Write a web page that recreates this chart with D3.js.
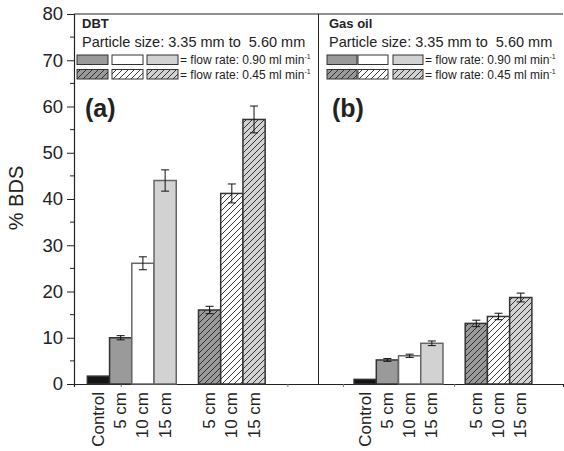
<html>
<head>
<script src="https://d3js.org/d3.v7.min.js"></script>
<style>
  body { margin: 0; background: #fff; }
  text { font-family: "Liberation Sans", Arial, sans-serif; fill: #222; white-space: pre; }
</style>
</head>
<body>
<div id="chart"></div>
<script>
// data
var categories = ["Control", "5 cm", "10 cm", "15 cm", "5 cm", "10 cm", "15 cm"];
var dbtValues = [1.7, 10.0, 26.1, 44.0, 16.0, 41.2, 57.2];
var dbtErrors = [0, 0.45, 1.4, 2.3, 0.8, 2.05, 2.9];
var gasOilValues = [1.0, 5.2, 6.1, 8.8, 13.1, 14.6, 18.7];
var gasOilErrors = [0, 0.3, 0.35, 0.5, 0.7, 0.7, 0.95];
var panelNames = ["DBT", "Gas oil"];
var panelLetters = ["(a)", "(b)"];
var yTicks = [0, 10, 20, 30, 40, 50, 60, 70, 80];
var yMinorTicks = [5, 15, 25, 35, 45, 55, 65, 75];
var xTicks = [2.1, 9.6, 12.1, 17.1];

var fills = ["#151515", "#9a9a9a", "#ffffff", "#d2d2d2", "#9a9a9a", "#ffffff", "#d2d2d2"];
var hatched = [false, false, false, false, true, true, true];

var width = 564, height = 451;
var svg = d3.select("#chart").append("svg")
    .attr("width", width)
    .attr("height", height);

var x = d3.scaleLinear().domain([0, 22]).range([74, 563]);
var y = d3.scaleLinear().domain([0, 80]).range([384, 14]);
var unit = x(1) - x(0);

// hatch patterns
var defs = svg.append("defs");
function hatchPattern(id, bg) {
    var p = defs.append("pattern")
        .attr("id", id)
        .attr("patternUnits", "userSpaceOnUse")
        .attr("width", 6).attr("height", 6);
    p.append("rect").attr("width", 6).attr("height", 6).attr("fill", bg);
    p.append("path")
        .attr("d", "M-1,1 l2,-2 M0,6 l6,-6 M5,7 l2,-2")
        .attr("stroke", "#222")
        .attr("stroke-width", 0.9);
}
hatchPattern("h-dark", "#9a9a9a");
hatchPattern("h-white", "#ffffff");
hatchPattern("h-light", "#d2d2d2");
var hatchIds = { "#9a9a9a": "h-dark", "#ffffff": "h-white", "#d2d2d2": "h-light" };

function fillOf(i) {
    return hatched[i] ? "url(#" + hatchIds[fills[i]] + ")" : fills[i];
}
function strokeOf(i) {
    return (i == 2 || i == 3) ? "#666" : "#333";
}

// slot of each bar (gap of one slot between the two flow-rate groups)
function slot(panel, i) {
    return panel * 12 + i + (i >= 4 ? 1 : 0) + 0.6;
}

// y axis
var yAxis = svg.append("g")
    .attr("transform", "translate(74,0)")
    .call(d3.axisLeft(y).tickValues(yTicks).tickSize(7).tickPadding(4));
yAxis.select(".domain").attr("stroke", "#222").attr("stroke-width", 1.2);
yAxis.selectAll(".tick line").attr("stroke", "#222");
yAxis.selectAll(".tick text")
    .style("font-size", "18.5px")
    .style("font-family", "Liberation Sans, Arial, sans-serif")
    .attr("fill", "#222");

svg.append("g")
    .attr("transform", "translate(74,0)")
    .selectAll("line")
    .data(yMinorTicks)
    .enter()
    .append("line")
    .attr("x1", -4).attr("x2", 0)
    .attr("y1", function(d) { return y(d); })
    .attr("y2", function(d) { return y(d); })
    .attr("stroke", "#222");

// x axis
var xAxis = svg.append("g")
    .attr("transform", "translate(0,384)")
    .call(d3.axisBottom(x).tickValues(xTicks).tickSize(3).tickFormat(""));
xAxis.select(".domain").attr("stroke", "#222").attr("stroke-width", 1.2);
xAxis.selectAll(".tick line").attr("stroke", "#777");

// top frame and divider
svg.append("line")
    .attr("x1", x(0)).attr("x2", x(22))
    .attr("y1", y(80)).attr("y2", y(80))
    .attr("stroke", "#222").attr("stroke-width", 1.2);
svg.append("line")
    .attr("x1", x(11)).attr("x2", x(11))
    .attr("y1", y(80)).attr("y2", y(0))
    .attr("stroke", "#222").attr("stroke-width", 1);

// y label
svg.append("text")
    .attr("transform", "translate(23,198) rotate(-90)")
    .attr("text-anchor", "middle")
    .style("font-size", "20px")
    .text("% BDS");

var panels = [
    { values: dbtValues, errors: dbtErrors },
    { values: gasOilValues, errors: gasOilErrors }
];

panels.forEach(function(pd, p) {
    var g = svg.append("g");
    var items = pd.values.map(function(v, i) { return { v: v, e: pd.errors[i], i: i }; });
    var cx = function(d) { return x(slot(p, d.i) + 0.5); };

    // bars
    g.selectAll(".bar")
        .data(items)
        .enter()
        .append("rect")
        .attr("class", "bar")
        .attr("x", function(d) { return x(slot(p, d.i)); })
        .attr("width", unit)
        .attr("y", function(d) { return y(d.v); })
        .attr("height", function(d) { return y(0) - y(d.v); })
        .attr("fill", function(d) { return fillOf(d.i); })
        .attr("stroke", function(d) { return strokeOf(d.i); })
        .attr("stroke-width", 1.5);

    // error bars
    var eb = g.selectAll(".err")
        .data(items.filter(function(d) { return d.e > 0; }))
        .enter()
        .append("g")
        .attr("class", "err")
        .attr("stroke", "#111")
        .attr("stroke-width", 1);
    eb.append("line")
        .attr("x1", cx).attr("x2", cx)
        .attr("y1", function(d) { return y(d.v + d.e); })
        .attr("y2", function(d) { return y(d.v - d.e); });
    [1, -1].forEach(function(sgn) {
        eb.append("line")
            .attr("x1", function(d) { return cx(d) - 4; })
            .attr("x2", function(d) { return cx(d) + 4; })
            .attr("y1", function(d) { return y(d.v + sgn * d.e); })
            .attr("y2", function(d) { return y(d.v + sgn * d.e); });
    });

    // category labels
    g.selectAll(".cat")
        .data(categories)
        .enter()
        .append("text")
        .attr("class", "cat")
        .attr("transform", function(d, i) {
            return "translate(" + (x(slot(p, i) + 0.5) + 5.5) + ",392) rotate(-90)";
        })
        .attr("text-anchor", "end")
        .style("font-size", "17px")
        .text(function(d) { return d; });

    // legend block
    var lx = p == 0 ? 82 : 329;
    g.append("text")
        .attr("x", lx).attr("y", 28)
        .style("font-size", "13px")
        .style("font-weight", "bold")
        .text(panelNames[p]);
    g.append("text")
        .attr("x", lx).attr("y", 47)
        .style("font-size", "14.5px")
        .text("Particle size: 3.35 mm to  5.60 mm");

    var sx = p == 0 ? [77, 112, 147] : [327, 358, 393];
    var sw = p == 0 ? 31 : 30;
    var rows = [[1, 2, 3], [4, 5, 6]];
    rows.forEach(function(r, ri) {
        var ry = ri == 0 ? 55 : 69.5;
        sx.forEach(function(xx, k) {
            g.append("rect")
                .attr("x", xx).attr("y", ry)
                .attr("width", sw).attr("height", 9.5)
                .attr("fill", fillOf(r[k]))
                .attr("stroke", "#333")
                .attr("stroke-width", 1);
        });
        var t = g.append("text")
            .attr("x", sx[2] + sw + 2)
            .attr("y", ry + 9)
            .style("font-size", "12px")
            .text("= flow rate: " + (ri == 0 ? "0.90" : "0.45") + " ml min");
        t.append("tspan")
            .attr("dy", -5)
            .style("font-size", "7px")
            .text("-1");
    });

    g.append("text")
        .attr("x", p == 0 ? 85 : 332).attr("y", 117)
        .style("font-size", "25px")
        .style("font-weight", "bold")
        .text(panelLetters[p]);
});
</script>
</body>
</html>
